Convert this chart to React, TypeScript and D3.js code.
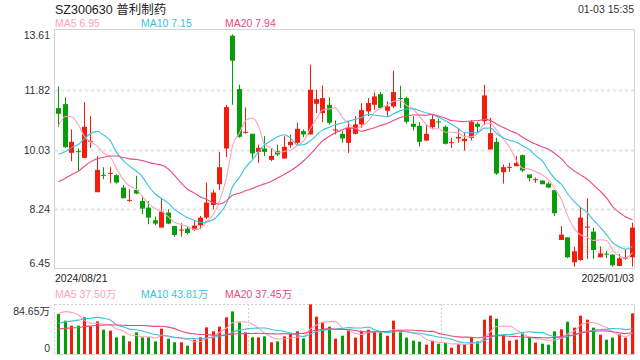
import React from "react";
import * as d3 from "d3";

// ---------- data ----------
const title = "SZ300630 普利制药";
const timeLabel = "01-03 15:35";
const dateLabels = ["2024/08/21", "2025/01/03"];
const priceTicks = [13.61, 11.82, 10.03, 8.24, 6.45];
const volTickLabels = ["84.65万", "0"];
const volMax = 84.65;
const maNames = ["MA5", "MA10", "MA20"];
const maPeriods = [5, 10, 20];
const priceMaLabels = ["6.95", "7.15", "7.94"];
const volMaLabels = ["37.50万", "43.81万", "37.45万"];
const watermark = "sina.com";

const opens = [
  11.27, 11.39, 9.93, 9.98, 9.78, 10.26, 8.75, 9.27, 9.31, 9.26,
  8.89, 8.5, 8.82, 8.49, 8.29, 7.91, 7.69, 8.14, 7.74, 7.6,
  7.66, 7.62, 7.76, 7.99, 8.37, 8.99, 10.06, 13.44, 11.84, 10.53,
  10.5, 9.96, 10.06, 9.72, 9.98, 9.76, 10.16, 10.23, 10.58, 10.48,
  11.4, 11.12, 11.37, 10.6, 10.5, 10.23, 10.5, 10.78, 11.17, 11.37,
  11.69, 11.19, 11.32, 11.57, 11.57, 10.8, 10.74, 10.3, 10.7, 10.87,
  10.71, 10.23, 10.36, 10.28, 10.38, 10.8, 10.88, 10.03, 10.26, 9.35,
  9.49, 9.53, 9.86, 9.28, 9.12, 9.1, 9.01, 8.81, 7.32, 7.4,
  6.65, 6.72, 7.7, 7.57, 6.8, 6.91, 6.88, 6.54, 6.77, 6.8,
];
const highs = [
  11.92, 11.6, 10.63, 10.06, 11.45, 11.03, 9.83, 9.5, 9.5, 9.29,
  8.97, 8.84, 9.24, 8.64, 8.49, 8.02, 8.57, 8.24, 7.74, 7.82,
  7.71, 7.91, 8.04, 9.04, 8.82, 9.96, 11.37, 13.48, 11.97, 11.29,
  10.5, 10.18, 10.43, 10.06, 10.18, 10.43, 10.48, 10.83, 10.63, 12.57,
  11.82, 11.95, 11.6, 10.9, 10.58, 10.88, 11.03, 11.42, 11.57, 11.74,
  11.75, 11.47, 12.39, 11.94, 11.62, 11.03, 10.85, 10.78, 11.09, 10.96,
  10.75, 10.38, 10.66, 10.53, 10.9, 10.85, 11.97, 10.98, 10.38, 9.58,
  9.63, 9.83, 9.88, 9.28, 9.19, 9.1, 9.06, 8.81, 7.74, 7.4,
  7.12, 8.29, 8.57, 7.69, 7.12, 7.0, 6.9, 6.9, 7.05, 7.84,
];
const lows = [
  10.71, 10.08, 9.68, 9.38, 9.78, 10.08, 8.75, 9.14, 9.02, 9.01,
  8.57, 8.46, 8.69, 8.09, 7.79, 7.76, 7.69, 7.79, 7.42, 7.42,
  7.48, 7.59, 7.64, 7.94, 8.24, 8.82, 9.8, 11.37, 10.38, 10.5,
  9.76, 9.63, 9.83, 9.68, 9.83, 9.76, 10.08, 10.18, 10.4, 10.48,
  11.12, 10.85, 10.78, 10.48, 10.23, 9.93, 10.48, 10.68, 11.03, 11.22,
  11.25, 11.0, 11.27, 11.27, 10.81, 10.6, 10.13, 10.28, 10.63, 10.68,
  10.18, 10.08, 10.23, 10.0, 10.3, 10.55, 10.76, 10.03, 9.27, 9.01,
  9.36, 9.53, 9.36, 9.07, 9.03, 8.99, 8.87, 8.04, 7.32, 6.78,
  6.52, 6.7, 6.75, 6.75, 6.8, 6.78, 6.52, 6.54, 6.73, 6.52,
];
const closes = [
  11.1, 10.1, 10.26, 9.95, 10.71, 10.29, 9.42, 9.24, 9.33, 9.04,
  8.57, 8.52, 8.71, 8.26, 7.99, 7.81, 8.17, 7.81, 7.47, 7.63,
  7.53, 7.75, 7.99, 8.44, 8.74, 9.5, 11.3, 12.69, 10.41, 10.56,
  9.91, 10.08, 9.96, 9.84, 9.88, 10.11, 10.26, 10.65, 10.48, 11.82,
  11.54, 11.57, 10.83, 10.63, 10.36, 10.68, 10.78, 11.21, 11.42, 11.62,
  11.27, 11.32, 11.75, 11.54, 10.86, 10.71, 10.26, 10.5, 10.94, 10.84,
  10.2, 10.25, 10.41, 10.35, 10.86, 10.71, 11.65, 10.52, 9.31, 9.5,
  9.51, 9.63, 9.4, 9.17, 9.14, 8.99, 8.89, 8.12, 7.48, 6.8,
  6.98, 7.99, 7.72, 7.02, 6.92, 6.88, 6.56, 6.77, 6.79, 7.69,
];
// volumes in 万
const volumes = [
  67.7, 56.4, 48.0, 48.0, 62.1, 46.8, 55.3, 41.2, 39.5, 28.2,
  31.0, 21.4, 36.7, 28.2, 28.2, 21.4, 42.9, 26.0, 19.8, 19.8,
  14.1, 24.3, 28.2, 45.1, 38.4, 46.3, 62.1, 72.2, 53.6, 36.7,
  28.2, 28.2, 29.9, 19.8, 21.4, 29.9, 33.9, 38.4, 26.5, 84.0,
  63.2, 54.2, 46.3, 26.0, 31.0, 42.3, 27.7, 39.5, 41.2, 38.4,
  37.8, 31.0, 56.4, 36.7, 27.7, 22.6, 20.9, 15.8, 22.6, 17.5,
  18.6, 10.7, 16.4, 16.9, 28.8, 21.4, 58.1, 64.9, 59.8, 31.6,
  22.6, 24.3, 35.6, 28.8, 19.2, 17.5, 15.8, 38.4, 41.8, 54.7,
  44.6, 64.9, 58.1, 44.6, 32.7, 24.3, 27.7, 33.9, 27.7, 68.8,
];
// sessions before the first visible candle (feed the moving averages only)
const priorCloses = [
  8.0, 8.15, 7.75, 7.85, 7.7, 7.6, 8.3, 8.6, 9.0, 9.5,
  9.3, 9.07, 8.95, 9.0, 8.85, 8.7, 10.3, 11.2, 12.4,
];
const priorVolumes = [
  28, 30, 35, 30, 27, 33, 36, 30, 34, 38,
  30, 35, 32, 38, 40, 40, 55, 70, 110,
];

// ---------- style ----------
const RED = "#f21d0d";
const GREEN = "#079d08";
const MA_COLORS = ["#f9a3c0", "#3ac3df", "#ec4a7c"];
const FONT = "'Liberation Sans', Arial, 'Noto Sans CJK SC', sans-serif";

const W = 640;
const H = 360;
const L = 55;
const R = 635;
const PT = 30;
const PB = 269;
const VT = 304;
const VB = 354;

function movingAvg(prior: number[], vals: number[], n: number) {
  const all = [...prior, ...vals];
  const off = prior.length;
  return vals.map((_, i) => d3.mean(all.slice(off + i - n + 1, off + i + 1)) as number);
}

export default function App() {
  const n = closes.length;
  const x = d3.scaleBand<number>().domain(d3.range(n)).range([L, R]).paddingInner(0);
  const bw = x.bandwidth();
  const xc = (i: number) => Math.round((x(i) as number) + bw / 2) + 0.5;
  const y = d3.scaleLinear().domain([priceTicks[4], priceTicks[0]]).range([PB, PT]);
  const yv = d3.scaleLinear().domain([0, volMax]).range([VB, VT]);

  const priceMAs = maPeriods.map((p) => movingAvg(priorCloses, closes, p));
  const volMAs = maPeriods.map((p) => movingAvg(priorVolumes, volumes, p));

  const lineP = d3
    .line<number>()
    .x((_, i) => xc(i))
    .y((d) => y(d))
    .curve(d3.curveMonotoneX);
  const lineV = d3
    .line<number>()
    .x((_, i) => xc(i))
    .y((d) => yv(d))
    .curve(d3.curveMonotoneX);

  const legendX = [55, 141, 225];
  const tickBaseline = (i: number) => {
    const yy = y(priceTicks[i]);
    if (i === 0) return yy + 9;
    if (i === priceTicks.length - 1) return yy - 2;
    return yy + 4;
  };
  const third = (R - 1 - L) / 3;

  return (
    <svg
      width={W}
      height={H}
      style={{ position: "fixed", left: 0, top: 0, background: "#fff" }}
      fontFamily={FONT}
    >
      <rect x={0} y={0} width={W} height={H} fill="#fff" />
      {/* header */}
      <text x={55} y={14} fontSize={12.5} fill="#222">{title}</text>
      <text x={634} y={13} fontSize={10.5} fill="#333" textAnchor="end">{timeLabel}</text>
      {maNames.map((m, k) => (
        <text key={m} x={legendX[k]} y={27} fontSize={10.5} fill={MA_COLORS[k]}>
          {m} {priceMaLabels[k]}
        </text>
      ))}

      {/* price frame & grid */}
      {priceTicks.slice(1, 4).map((t) => (
        <line
          key={t}
          x1={L}
          x2={R}
          y1={Math.round(y(t)) + 0.5}
          y2={Math.round(y(t)) + 0.5}
          stroke="#e3e3e3"
          strokeWidth={2}
          strokeDasharray="3,3"
        />
      ))}
      <rect x={L - 0.5} y={PT - 0.5} width={R - L} height={PB - PT} fill="none" stroke="#d4d4d4" />
      {priceTicks.map((t, i) => (
        <text key={t} x={50} y={tickBaseline(i)} fontSize={10.5} fill="#333" textAnchor="end">
          {t.toFixed(2)}
        </text>
      ))}

      {/* watermark */}
      <text x={606} y={253} fontSize={12} fill="#cfcfcf" opacity={0.55} textAnchor="middle">
        {watermark}
      </text>

      {/* candles */}
      {closes.map((c, i) => {
        const o = opens[i];
        const up = c >= o;
        const col = up ? RED : GREEN;
        const cx = xc(i);
        const top = y(Math.max(o, c));
        const bot = y(Math.min(o, c));
        return (
          <g key={i}>
            <line x1={cx} x2={cx} y1={y(highs[i])} y2={y(lows[i])} stroke={col} strokeWidth={1} />
            <rect x={cx - 2.5} y={top} width={5} height={Math.max(1, bot - top)} fill={col} />
          </g>
        );
      })}

      {/* price MAs */}
      {priceMAs.map((arr, k) => (
        <path key={k} d={lineP(arr) || ""} fill="none" stroke={MA_COLORS[k]} strokeWidth={1.1} />
      ))}

      {/* date labels */}
      <text x={55} y={282} fontSize={10.5} fill="#222">{dateLabels[0]}</text>
      <text x={634} y={282} fontSize={10.5} fill="#222" textAnchor="end">{dateLabels[1]}</text>

      {/* volume legend */}
      {maNames.map((m, k) => (
        <text key={m} x={legendX[k]} y={298} fontSize={10.5} fill={MA_COLORS[k]}>
          {m} {volMaLabels[k]}
        </text>
      ))}

      {/* volume frame */}
      <line x1={L} x2={R - 1} y1={VT + 0.5} y2={VT + 0.5} stroke="#cfcfcf" strokeDasharray="2,2" />
      <line x1={L - 0.5} x2={L - 0.5} y1={VT} y2={VB} stroke="#cfcfcf" strokeDasharray="2,2" />
      <line x1={R - 0.5} x2={R - 0.5} y1={VT} y2={VB + 1} stroke="#d4d4d4" />
      <line x1={L} x2={R} y1={VB + 0.5} y2={VB + 0.5} stroke="#d4d4d4" />
      {[1, 2].map((k) => (
        <line
          key={k}
          x1={Math.round(L + third * k) + 0.5}
          x2={Math.round(L + third * k) + 0.5}
          y1={VT}
          y2={VB}
          stroke="#cfcfcf"
          strokeDasharray="2,2"
        />
      ))}
      <text x={50} y={315} fontSize={10.5} fill="#333" textAnchor="end">{volTickLabels[0]}</text>
      <text x={50} y={352} fontSize={10.5} fill="#333" textAnchor="end">{volTickLabels[1]}</text>

      {/* volume bars */}
      {volumes.map((v, i) => {
        const up = closes[i] >= opens[i];
        const cx = xc(i);
        return (
          <rect
            key={i}
            x={cx - 1.5}
            y={yv(v)}
            width={3}
            height={VB - yv(v)}
            fill={up ? RED : GREEN}
          />
        );
      })}
      {volMAs.map((arr, k) => (
        <path key={k} d={lineV(arr) || ""} fill="none" stroke={MA_COLORS[k]} strokeWidth={1.1} />
      ))}
    </svg>
  );
}
